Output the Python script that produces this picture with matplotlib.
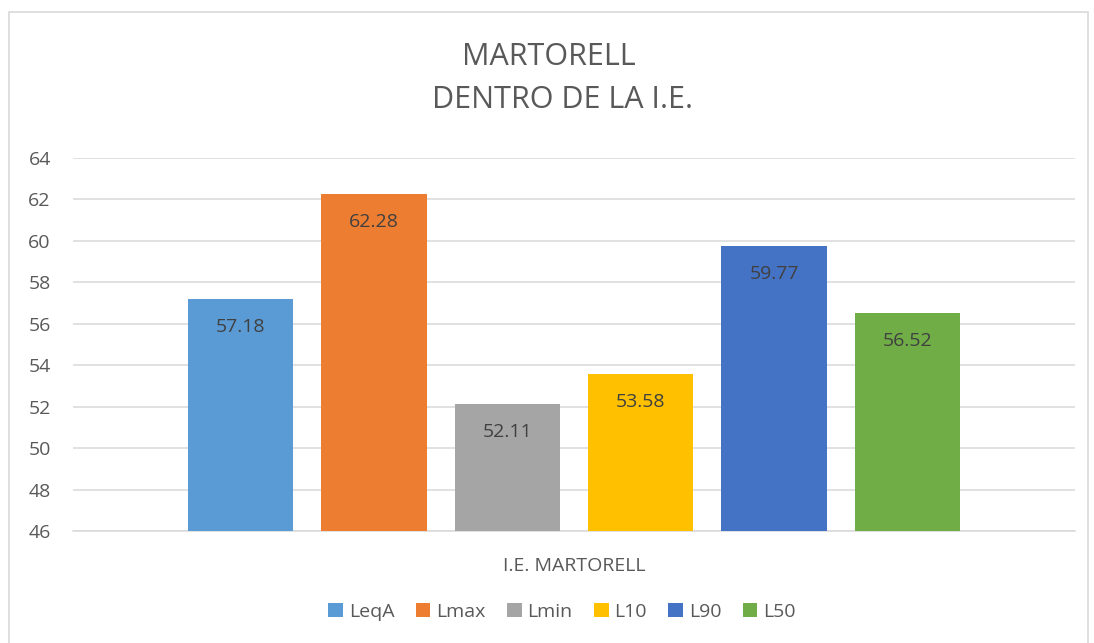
"""
    Noise levels inside the I.E. Martorell.
"""

import matplotlib.pyplot as plt
from matplotlib.patches import Rectangle

SERIES = ["LeqA", "Lmax", "Lmin", "L10", "L90", "L50"]
VALUES = [57.18, 62.28, 52.11, 53.58, 59.77, 56.52]
COLORS = ["#5b9bd5", "#ed7d31", "#a5a5a5", "#ffc000", "#4472c4", "#70ad47"]
CATEGORY = "I.E. MARTORELL"
Y_TICKS = list(range(46, 65, 2))

plt.rcParams["font.family"] = ["Open Sans", "DejaVu Sans"]
TXT = "#595959"

fig = plt.figure(figsize=(10.94, 6.43), dpi=100)
fig.patches.append(Rectangle((9 / 1094, -0.01), 1079 / 1094, 1 - 12 / 643 + 0.01,
                             transform=fig.transFigure, fill=False,
                             edgecolor="#d9d9d9", linewidth=1.2))

ax = fig.add_axes([73 / 1094, 1 - 531 / 643, 1002 / 1094, 373 / 643])
n = len(SERIES)
for i, (name, val, col) in enumerate(zip(SERIES, VALUES, COLORS)):
    x = i - (n - 1) / 2
    ax.bar(x, val - 46, bottom=46, width=0.79, color=col, label=name, zorder=3)
    ax.text(x, val - 1.35, f"{val:.2f}", ha="center", va="center",
            fontsize=14, color="#404040", zorder=4)

ax.set_xlim(-3.755, 3.755)
ax.set_ylim(46, 64)
ax.set_yticks(Y_TICKS)
ax.set_xticks([0])
ax.set_xticklabels([CATEGORY])
ax.tick_params(axis="both", length=0, labelsize=14, colors=TXT)
ax.tick_params(axis="x", pad=19)
ax.tick_params(axis="y", pad=16)
ax.grid(axis="y", color="#d9d9d9", linewidth=1.1, zorder=0)
for side in ["top", "right", "left"]:
    ax.spines[side].set_visible(False)
ax.spines["bottom"].set_color("#d9d9d9")
ax.spines["bottom"].set_linewidth(1.1)

fig.text(549 / 1094, 1 - 57 / 643, "MARTORELL", ha="center", va="center",
         fontsize=22, color=TXT)
fig.text(562 / 1094, 1 - 100 / 643, "DENTRO DE LA I.E.", ha="center", va="center",
         fontsize=22, color=TXT)

fig.legend(loc="center", bbox_to_anchor=(562 / 1094, 1 - 612 / 643), ncol=n,
           frameon=False, fontsize=14, handlelength=0.75, handleheight=0.75,
           handletextpad=0.3, columnspacing=1.1, labelcolor=TXT)

plt.savefig("out.png", dpi=100)
